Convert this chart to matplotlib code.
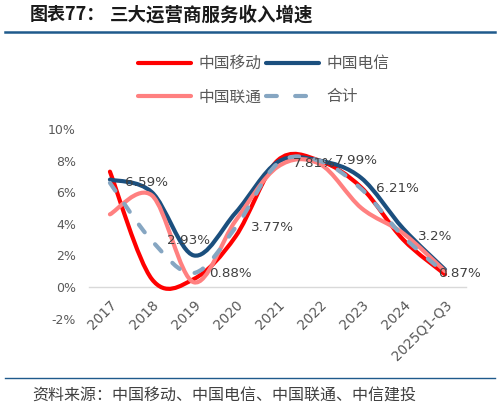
import matplotlib
matplotlib.use("Agg")
import matplotlib.pyplot as plt
from matplotlib.path import Path
from matplotlib.patches import PathPatch
from matplotlib.lines import Line2D

# ---------------- data ----------------
categories = ["2017", "2018", "2019", "2020", "2021", "2022", "2023", "2024", "2025Q1-Q3"]
china_mobile = [7.3, 0.5, 0.5, 3.2, 8.0, 8.0, 6.3, 3.0, 0.8]
china_telecom = [6.8, 6.0, 2.0, 4.7, 7.9, 8.0, 6.9, 3.7, 1.1]
china_unicom = [4.6, 5.8, 0.3, 4.2, 7.6, 7.8, 5.0, 3.4, 1.0]
total = [6.59, 2.93, 0.88, 3.77, 7.81, 7.99, 6.21, 3.2, 0.87]
total_labels = ["6.59%", "2.93%", "0.88%", "3.77%", "7.81%", "7.99%", "6.21%", "3.2%", "0.87%"]
series_names = ["中国移动", "中国电信", "中国联通", "合计"]
y_ticks = [-2, 0, 2, 4, 6, 8, 10]

CJK = ["Noto Sans CJK SC", "DejaVu Sans"]

W, H = 500, 409
fig = plt.figure(figsize=(W / 100, H / 100), dpi=100)

def fx(px):
    return px / W

def fy(py):
    return 1 - py / H

ax = fig.add_axes([fx(89), fy(318.6), fx(466) - fx(89), fy(129) - fy(318.6)])
for s in ["top", "right", "left"]:
    ax.spines[s].set_visible(False)
ax.spines["bottom"].set_position(("data", 0))
ax.spines["bottom"].set_color("#D9D9D9")
ax.spines["bottom"].set_linewidth(1)
ax.patch.set_alpha(0)


def smooth_path(ys):
    """Excel-style smoothed line: cubic Bezier segments (Catmull-Rom control points)."""
    xs = list(range(len(ys)))
    n = len(ys)
    verts = [(xs[0], ys[0])]
    codes = [Path.MOVETO]
    for i in range(n - 1):
        x0, y0 = xs[max(i - 1, 0)], ys[max(i - 1, 0)]
        x1, y1 = xs[i], ys[i]
        x2, y2 = xs[i + 1], ys[i + 1]
        x3, y3 = xs[min(i + 2, n - 1)], ys[min(i + 2, n - 1)]
        c1 = (x1 + (x2 - x0) / 6, y1 + (y2 - y0) / 6)
        c2 = (x2 - (x3 - x1) / 6, y2 - (y3 - y1) / 6)
        verts += [c1, c2, (x2, y2)]
        codes += [Path.CURVE4] * 3
    return Path(verts, codes)


colors = ["#FF0000", "#1B4F7E", "#FF8080", "#86A6C2"]
all_series = [china_mobile, china_telecom, china_unicom, total]
lw = 3.0
dash = (0, (2.3, 3.8))
for k, (ys, c) in enumerate(zip(all_series, colors)):
    patch = PathPatch(smooth_path(ys), facecolor="none", edgecolor=c, lw=lw,
                      capstyle="round", joinstyle="round", zorder=3 + k)
    if k == 3:
        patch.set_linestyle(dash)
    ax.add_patch(patch)

# data labels for total
for i, (v, lab) in enumerate(zip(total, total_labels)):
    dx = 10.8 if i < len(total) - 1 else -5
    ax.annotate(lab, (i, v), xytext=(dx, 0), textcoords="offset points",
                ha="left", va="center", fontsize=9.7, color="#404040", zorder=10,
                annotation_clip=False)

ax.set_xlim(-0.5, len(categories) - 0.5)
ax.set_ylim(-2, 10)
ax.set_yticks(y_ticks)
ax.set_yticklabels([f"{t}%" for t in y_ticks], color="#595959", fontsize=9)
ax.set_xticks(range(len(categories)))
ax.set_xticklabels(categories, rotation=45, ha="right", va="top",
                   rotation_mode="anchor", color="#595959", fontsize=9.8)
ax.tick_params(axis="both", length=0)
ax.tick_params(axis="y", pad=9.5)
ax.tick_params(axis="x", pad=8)

# legend (row-wise order: 移动, 电信 / 联通, 合计)
handles = []
for k, c in enumerate(colors):
    if k == 3:
        h = Line2D([], [], color=c, lw=lw, linestyle=(0, (2.6, 4.4)), dash_capstyle="round")
    else:
        h = Line2D([], [], color=c, lw=lw, solid_capstyle="round")
    handles.append(h)
order = [0, 2, 1, 3]
leg = fig.legend([handles[i] for i in order], [series_names[i] for i in order],
                 ncol=2, loc="upper left",
                 bbox_to_anchor=(fx(138), fy(55)), frameon=False,
                 prop={"family": CJK, "size": 11.3}, labelcolor="#595959",
                 handlelength=3.4, handletextpad=0.45, columnspacing=0.3,
                 labelspacing=1.05, borderpad=0, borderaxespad=0)

# title
fig.text(fx(30), fy(15), "图表77：", family=CJK, fontsize=13, fontweight="bold",
         color="#1A1A1A", ha="left", va="center")
fig.text(fx(110), fy(15), "三大运营商服务收入增速", family=CJK, fontsize=13.3,
         fontweight="bold", color="#1A1A1A", ha="left", va="center")
fig.add_artist(Line2D([fx(5), fx(495)], [fy(32), fy(32)], color="#1F5A8C", lw=1.8))

# source
fig.add_artist(Line2D([fx(5), fx(495)], [fy(378), fy(378)], color="#1F5A8C", lw=1.0))
fig.text(fx(32), fy(396), "资料来源：中国移动、中国电信、中国联通、中信建投", family=CJK,
         fontsize=11.5, color="#404040", ha="left", va="center", style="italic")

fig.savefig("out.png", dpi=100)
